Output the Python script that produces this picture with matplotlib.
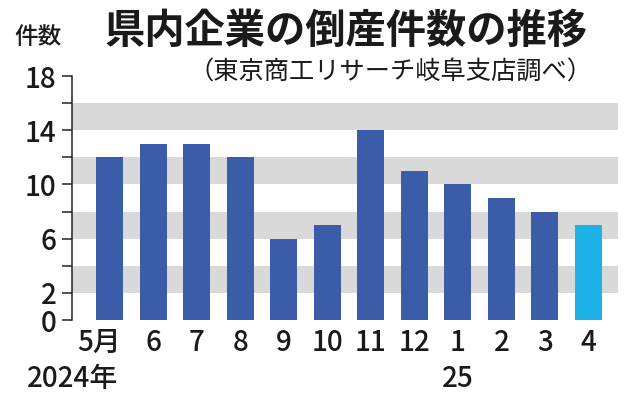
import matplotlib.pyplot as plt
from matplotlib.transforms import ScaledTranslation

plt.rcParams['font.family'] = ['Noto Sans CJK JP', 'DejaVu Sans']

# Data
months = ['5月', '6', '7', '8', '9', '10', '11', '12', '1', '2', '3', '4']
counts = [12, 13, 13, 12, 6, 7, 14, 11, 10, 9, 8, 7]
bar_colors = ['#3b5ca8'] * 11 + ['#1cb2e8']
band_ranges = [(2, 4), (6, 8), (10, 12), (14, 16)]
y_ticks = list(range(0, 19, 2))
y_labels = ['0', '2', '', '6', '', '10', '', '14', '', '18']

fig = plt.figure(figsize=(6.34, 4.0), dpi=100)
ax = fig.add_axes([0.1136, 0.2, 0.8614, 0.61])

# gray bands
for lo, hi in band_ranges:
    ax.axhspan(lo, hi, color='#d9d9d9', lw=0, zorder=0)

x = list(range(len(months)))
ax.bar(x, counts, width=0.62, color=bar_colors, zorder=2)

ax.set_xlim(-0.86, 11.68)
ax.set_ylim(0, 18)

for side in ['top', 'right', 'bottom']:
    ax.spines[side].set_visible(False)
ax.spines['left'].set_linewidth(1.1)
ax.spines['left'].set_color('#222222')

txt = dict(fontsize=20, color='#1a1a1a', fontweight='medium')

ax.set_yticks(y_ticks)
ax.set_yticklabels(y_labels, **txt)
ax.tick_params(axis='y', length=7, width=1.1, color='#222222', pad=4)

ax.set_xticks(x)
ax.set_xticklabels(months, **txt)
ax.tick_params(axis='x', length=0, pad=6)
# shift "5月" slightly to the left like the original
lbl = ax.get_xticklabels()[0]
lbl.set_transform(lbl.get_transform() + ScaledTranslation(-10 / 100, 0, fig.dpi_scale_trans))

# year labels
ax.text(0.2, -0.24, '2024年', transform=ax.get_xaxis_transform(), ha='right', va='center', **txt)
ax.text(8, -0.24, '25', transform=ax.get_xaxis_transform(), ha='center', va='center', **txt)

# titles
fig.text(0.545, 0.922, '県内企業の倒産件数の推移', ha='center', va='center',
         fontsize=29, fontweight='bold', color='#1a1a1a')
fig.text(0.935, 0.818, '（東京商工リサーチ岐阜支店調べ）', ha='right', va='center',
         fontsize=18.2, color='#1a1a1a')
fig.text(0.06, 0.907, '件数', ha='center', va='center', fontsize=17, color='#1a1a1a',
         fontweight='medium')

fig.savefig('out.png', dpi=100)
